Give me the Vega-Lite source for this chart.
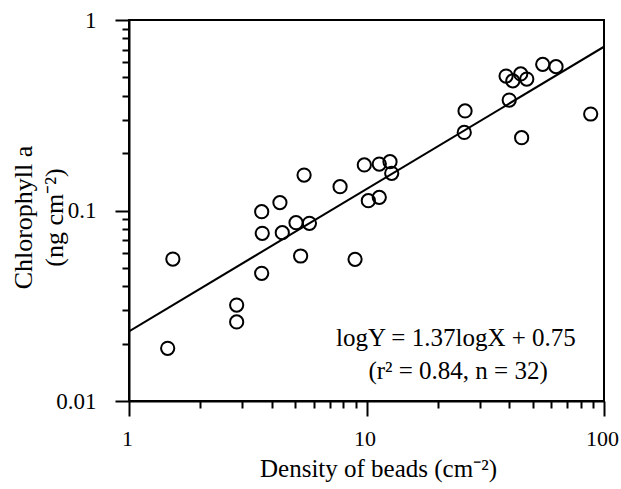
{
  "$schema": "https://vega.github.io/schema/vega-lite/v6.json",
  "width": 475,
  "height": 381,
  "autosize": {"type": "none"},
  "padding": {"left": 129, "top": 20, "right": 17, "bottom": 88},
  "background": "white",
  "config": {
    "view": {"stroke": "black", "strokeWidth": 2},
    "font": "Liberation Serif",
    "axis": {
      "domainColor": "black", "domainWidth": 2, "tickColor": "black", "tickWidth": 2,
      "labelFont": "Liberation Serif", "labelFontSize": 23, "labelColor": "black",
      "titleFont": "Liberation Serif", "titleFontSize": 25, "titleFontWeight": "normal", "titleColor": "black",
      "grid": false
    }
  },
  "datasets": {
    "pts": [
      {"density": 1.455, "chl": 0.0189},
      {"density": 1.53, "chl": 0.0556},
      {"density": 2.84, "chl": 0.0319},
      {"density": 2.84, "chl": 0.026},
      {"density": 3.62, "chl": 0.0986},
      {"density": 3.64, "chl": 0.0759},
      {"density": 3.62, "chl": 0.0468},
      {"density": 4.32, "chl": 0.110},
      {"density": 4.42, "chl": 0.0765},
      {"density": 5.05, "chl": 0.0863},
      {"density": 5.46, "chl": 0.1535},
      {"density": 5.28, "chl": 0.0577},
      {"density": 5.75, "chl": 0.0857},
      {"density": 7.74, "chl": 0.1334},
      {"density": 8.95, "chl": 0.0554},
      {"density": 9.79, "chl": 0.1734},
      {"density": 10.18, "chl": 0.1126},
      {"density": 11.32, "chl": 0.1754},
      {"density": 11.32, "chl": 0.1172},
      {"density": 12.56, "chl": 0.1804},
      {"density": 12.77, "chl": 0.1567},
      {"density": 26.0, "chl": 0.333},
      {"density": 25.8, "chl": 0.257},
      {"density": 38.7, "chl": 0.508},
      {"density": 41.3, "chl": 0.479},
      {"density": 39.9, "chl": 0.380},
      {"density": 44.6, "chl": 0.521},
      {"density": 47.3, "chl": 0.490},
      {"density": 45.0, "chl": 0.241},
      {"density": 55.2, "chl": 0.585},
      {"density": 62.8, "chl": 0.569},
      {"density": 87.9, "chl": 0.321}
    ],
    "fit": [
      {"density": 1, "chl": 0.0232},
      {"density": 100, "chl": 0.724}
    ]
  },
  "layer": [
    {
      "data": {"name": "fit"},
      "mark": {"type": "line", "color": "black", "strokeWidth": 2, "clip": true},
      "encoding": {
        "x": {
          "field": "density", "type": "quantitative",
          "scale": {"type": "log", "domain": [1, 100], "nice": false},
          "axis": {
            "title": "Density of beads (cm⁻²)",
            "values": [1,2,3,4,5,6,7,8,9,10,20,30,40,50,60,70,80,90,100],
            "labelExpr": "datum.value == 1 ? '1' : datum.value == 10 ? '10' : datum.value == 100 ? '100' : ''",
            "tickSize": {"condition": {"test": "indexof([1,10,100], datum.value) >= 0", "value": 15}, "value": 7},
            "labelPadding": 12,
            "labelOffset": -2,
            "labelFontSize": 22,
            "labelFlush": false,
            "labelOverlap": false,
            "titleX": 249,
            "titleY": 75,
            "titleBaseline": "alphabetic"
          }
        },
        "y": {
          "field": "chl", "type": "quantitative",
          "scale": {"type": "log", "domain": [0.01, 1], "nice": false},
          "axis": {
            "title": ["Chlorophyll a", "(ng cm⁻²)"],
            "values": [0.01,0.02,0.03,0.04,0.05,0.06,0.07,0.08,0.09,0.1,0.2,0.3,0.4,0.5,0.6,0.7,0.8,0.9,1],
            "labelExpr": "datum.value == 1 ? '1' : datum.value == 0.1 ? '0.1' : datum.value == 0.01 ? '0.01' : ''",
            "tickSize": {"condition": {"test": "indexof([0.01,0.1,1], datum.value) >= 0", "value": 14}, "value": 7},
            "labelPadding": 19,
            "labelFlush": false,
            "labelOverlap": false,
            "titleAngle": -90,
            "titleX": -106,
            "titleY": 197,
            "titleBaseline": "middle",
            "titleAlign": "center",
            "titleFontSize": 26,
            "titleLineHeight": 31
          }
        }
      }
    },
    {
      "data": {"name": "pts"},
      "mark": {"type": "point", "shape": "circle", "filled": false, "stroke": "black", "strokeWidth": 2, "size": 175, "opacity": 1},
      "encoding": {
        "x": {"field": "density", "type": "quantitative"},
        "y": {"field": "chl", "type": "quantitative"}
      }
    },
    {
      "data": {"values": [{"line": "logY = 1.37logX + 0.75"}]},
      "mark": {"type": "text", "fontSize": 25, "font": "Liberation Serif", "color": "black", "align": "center", "baseline": "middle"},
      "encoding": {
        "x": {"datum": 23.8, "type": "quantitative"},
        "y": {"datum": 0.0213, "type": "quantitative"},
        "text": {"field": "line"}
      }
    },
    {
      "data": {"values": [{"line": "(r² = 0.84, n = 32)"}]},
      "mark": {"type": "text", "fontSize": 25, "font": "Liberation Serif", "color": "black", "align": "center", "baseline": "middle"},
      "encoding": {
        "x": {"datum": 24.3, "type": "quantitative"},
        "y": {"datum": 0.01437, "type": "quantitative"},
        "text": {"field": "line"}
      }
    }
  ]
}
